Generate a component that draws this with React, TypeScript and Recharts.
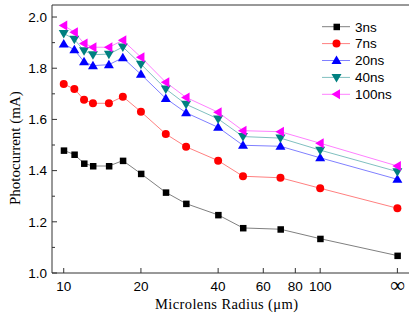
import React from 'react';
import { LineChart, Line, XAxis, YAxis, ReferenceLine, Legend } from 'recharts';

// Microlens radius (µm); the last point stands for "∞" and is placed at 200 on the log axis
const radii = [10, 11, 12, 13, 15, 17, 20, 25, 30, 40, 50, 70, 100, 200];
const INF_VALUE = 200;

const s3ns = [1.479, 1.463, 1.428, 1.418, 1.418, 1.439, 1.388, 1.315, 1.271, 1.227, 1.176, 1.171, 1.134, 1.068];
const s7ns = [1.738, 1.719, 1.677, 1.663, 1.663, 1.689, 1.630, 1.543, 1.493, 1.439, 1.378, 1.372, 1.331, 1.253];
const s20ns = [1.895, 1.872, 1.825, 1.810, 1.814, 1.841, 1.776, 1.682, 1.626, 1.569, 1.499, 1.495, 1.450, 1.366];
const s40ns = [1.936, 1.913, 1.868, 1.853, 1.855, 1.883, 1.816, 1.719, 1.659, 1.602, 1.533, 1.527, 1.480, 1.396];
const s100ns = [1.967, 1.941, 1.897, 1.882, 1.882, 1.909, 1.843, 1.745, 1.686, 1.628, 1.556, 1.552, 1.507, 1.418];

const xTicks = [10, 20, 40, 60, 80, 100, INF_VALUE];
const xTickLabels = ['10', '20', '40', '60', '80', '100', '∞'];
const yTicks = [1.0, 1.1, 1.2, 1.3, 1.4, 1.5, 1.6, 1.7, 1.8, 1.9, 2.0];
const yMajorLabels = ['1.0', '1.2', '1.4', '1.6', '1.8', '2.0'];

const seriesNames = ['3ns', '7ns', '20ns', '40ns', '100ns'];
const seriesValues = [s3ns, s7ns, s20ns, s40ns, s100ns];

const data = radii.map((r, i) => {
  const row: any = { r };
  seriesNames.forEach((n, k) => {
    row[n] = seriesValues[k][i];
  });
  return row;
});

type Shape = 'square' | 'circle' | 'up' | 'down' | 'left';
const styles: { name: string; line: string; fill: string; shape: Shape }[] = [
  { name: '3ns', line: '#808080', fill: '#000000', shape: 'square' },
  { name: '7ns', line: '#ff8080', fill: '#ff0000', shape: 'circle' },
  { name: '20ns', line: '#8080ff', fill: '#0000ff', shape: 'up' },
  { name: '40ns', line: '#80c0c0', fill: '#008080', shape: 'down' },
  { name: '100ns', line: '#ff80ff', fill: '#ff00ff', shape: 'left' },
];

function Marker({ cx, cy, shape, fill }: { cx: number; cy: number; shape: Shape; fill: string }) {
  switch (shape) {
    case 'square':
      return <rect x={cx - 3} y={cy - 3} width={6.5} height={6.5} fill={fill} />;
    case 'circle':
      return <circle cx={cx} cy={cy} r={4} fill={fill} />;
    case 'up':
      return <polygon points={`${cx},${cy - 5} ${cx - 5},${cy + 3.5} ${cx + 5},${cy + 3.5}`} fill={fill} />;
    case 'down':
      return <polygon points={`${cx - 5},${cy - 3.5} ${cx + 5},${cy - 3.5} ${cx},${cy + 5}`} fill={fill} />;
    case 'left':
      return <polygon points={`${cx - 5},${cy} ${cx + 3.5},${cy - 5} ${cx + 3.5},${cy + 5}`} fill={fill} />;
  }
  return null;
}

const tickFont = '"Liberation Sans", Arial, sans-serif';
const serifFont = '"Liberation Serif", "Times New Roman", serif';

function XTick(props: any) {
  const { x, y, payload } = props;
  const idx = xTicks.indexOf(payload.value);
  const label = idx >= 0 ? xTickLabels[idx] : '';
  const isInf = payload.value === INF_VALUE;
  return (
    <g>
      <line x1={x} x2={x} y1={y} y2={y - 5} stroke="#333" strokeWidth={1} />
      <text
        x={x}
        y={y + (isInf ? 18.5 : 18)}
        textAnchor="middle"
        fontFamily={isInf ? serifFont : tickFont}
        fontSize={isInf ? 21 : 13.5}
        fill="#000"
      >
        {label}
      </text>
    </g>
  );
}

function YTick(props: any) {
  const { x, y, payload } = props;
  const v = Number(payload.value);
  const major = Math.round(v * 10) % 2 === 0;
  const label = major ? yMajorLabels[Math.round((v - 1) * 5)] : '';
  return (
    <g>
      <line x1={x} x2={x + (major ? 5 : 3)} y1={y} y2={y} stroke="#333" strokeWidth={1} />
      {major && (
        <text x={x - 5} y={y} dy="0.36em" textAnchor="end" fontFamily={tickFont} fontSize={13.5} fill="#000">
          {label}
        </text>
      )}
    </g>
  );
}

function LegendBox() {
  return (
    <svg width={90} height={90} style={{ overflow: 'visible' }}>
      {styles.map((s, i) => {
        const y = 8.7 + i * 16.9;
        return (
          <g key={s.name}>
            <line x1={4} x2={32} y1={y} y2={y} stroke={s.line} strokeWidth={1} />
            <Marker cx={18.5} cy={y} shape={s.shape} fill={s.fill} />
            <text x={37} y={y} dy="0.36em" fontFamily={tickFont} fontSize={13.5} fill="#000">
              {s.name}
            </text>
          </g>
        );
      })}
    </svg>
  );
}

export default function App() {
  return (
    <div style={{ position: 'absolute', left: 0, top: 0, width: 409, height: 321, background: '#fff' }}>
      <LineChart width={409} height={321} data={data} margin={{ top: 5, right: 0, left: 0, bottom: 0 }}>
        <XAxis
          dataKey="r"
          type="number"
          scale="log"
          domain={[9, 222]}
          allowDataOverflow
          ticks={xTicks}
          tick={<XTick />}
          tickLine={false}
          tickSize={0}
          tickMargin={0}
          height={48}
          axisLine={{ stroke: '#333', strokeWidth: 1 }}
          interval={0}
          label={() => (
            <text
              x={155}
              y={308.5}
              textAnchor="start"
              fontFamily={serifFont}
              fontSize={14.5}
              letterSpacing={0.4}
              fill="#000"
            >
              Microlens Radius (μm)
            </text>
          )}
        />
        <YAxis
          type="number"
          domain={[1, 2.047]}
          allowDataOverflow
          ticks={yTicks}
          tick={<YTick />}
          tickLine={false}
          tickSize={0}
          tickMargin={0}
          width={52}
          interval={0}
          axisLine={{ stroke: '#333', strokeWidth: 1 }}
          label={() => (
            <text
              x={15}
              y={205}
              transform="rotate(-90, 15, 205)"
              textAnchor="start"
              dominantBaseline="central"
              fontFamily={serifFont}
              fontSize={15}
              fill="#000"
            >
              Photocurrent (mA)
            </text>
          )}
        />
        <ReferenceLine y={2.047} stroke="#333" strokeWidth={1} ifOverflow="visible" />
        {styles.map((s) => (
          <Line
            key={s.name}
            type="linear"
            dataKey={s.name}
            stroke={s.line}
            strokeWidth={1}
            isAnimationActive={false}
            activeDot={false}
            dot={(p: any) => (
              <Marker key={`${s.name}-${p.index}`} cx={p.cx} cy={p.cy} shape={s.shape} fill={s.fill} />
            )}
          />
        ))}
        <Legend
          layout="vertical"
          align="center"
          verticalAlign="middle"
          wrapperStyle={{ position: 'absolute', left: 318, top: 18, width: 90, height: 90 }}
          content={() => <LegendBox />}
        />
      </LineChart>
    </div>
  );
}
